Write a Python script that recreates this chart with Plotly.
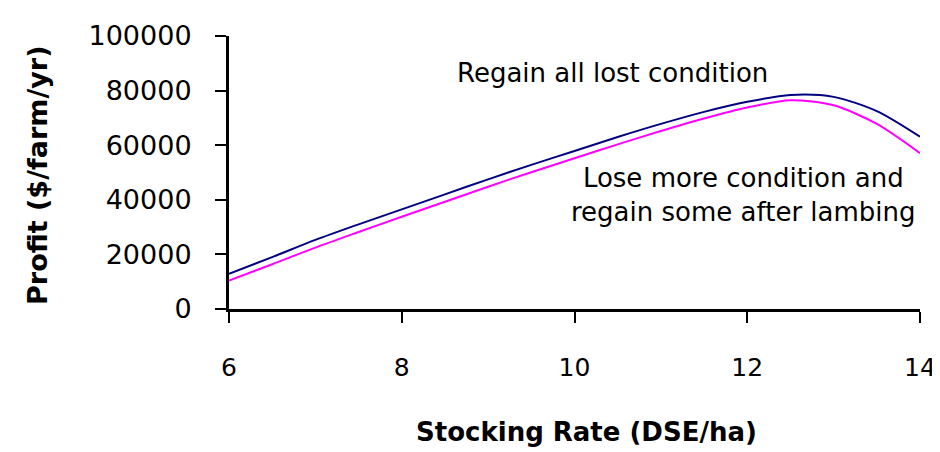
import plotly.graph_objects as go

stocking_rate = [6, 6.5, 7, 7.5, 8, 8.5, 9, 9.5, 10, 10.5, 11, 11.5, 12, 12.5, 13, 13.5, 14]
regain_all = [12900, 19000, 25300, 31000, 36500, 42000, 47500, 52800, 57900, 63000, 67800,
              72200, 75900, 78400, 77700, 72500, 63100]
lose_more = [10400, 16400, 22500, 28200, 33800, 39300, 44800, 50100, 55200, 60300, 65200,
             69800, 73800, 76500, 74600, 67800, 57100]

x_ticks = [6, 8, 10, 12, 14]
y_ticks = [0, 20000, 40000, 60000, 80000, 100000]

FONT = "DejaVu Sans"

fig = go.Figure()
fig.add_trace(go.Scatter(x=stocking_rate, y=regain_all, mode="lines",
                         line=dict(color="#000080", width=2, shape="spline", smoothing=0.8),
                         name="Regain all lost condition", showlegend=False))
fig.add_trace(go.Scatter(x=stocking_rate, y=lose_more, mode="lines",
                         line=dict(color="#FF00FF", width=2, shape="spline", smoothing=0.8),
                         name="Lose more condition and regain some after lambing", showlegend=False))

fig.update_layout(
    width=940, height=452,
    margin=dict(l=221, r=22, t=22, b=151),
    paper_bgcolor="white", plot_bgcolor="white",
    font=dict(family=FONT, color="black"),
    xaxis=dict(range=[6, 14], tickvals=x_ticks, ticktext=[str(v) for v in x_ticks],
               showgrid=False, zeroline=False, showline=True, linecolor="black", linewidth=3,
               ticks="outside", ticklen=11, tickwidth=2, tickcolor="black",
               tickfont=dict(size=25, family=FONT), ticklabelstandoff=23),
    yaxis=dict(range=[0, 100000], tickvals=y_ticks, ticktext=[str(v) for v in y_ticks],
               showgrid=False, zeroline=False, showline=True, linecolor="black", linewidth=3,
               ticks="outside", ticklen=11, tickwidth=2, tickcolor="black",
               tickfont=dict(size=27, family=FONT), ticklabelstandoff=18),
    annotations=[
        dict(text="<b>Stocking Rate (DSE/ha)</b>", xref="paper", yref="paper",
             x=0.518, y=-0.452, showarrow=False, font=dict(size=26, family=FONT),
             xanchor="center", yanchor="middle"),
        dict(text="<b>Profit ($/farm/yr)</b>", xref="paper", yref="paper",
             x=-0.2764, y=0.491, showarrow=False, textangle=-90,
             font=dict(size=27, family=FONT), xanchor="center", yanchor="middle"),
        dict(text="Regain all lost condition", xref="x", yref="y",
             x=10.44, y=86380, showarrow=False, font=dict(size=26, family=FONT),
             xanchor="center", yanchor="middle"),
        dict(text="Lose more condition and<br>regain some after lambing", xref="x", yref="y",
             x=11.96, y=41580, showarrow=False, font=dict(size=26, family=FONT),
             xanchor="center", yanchor="middle", align="center"),
    ],
)

fig.write_html("out.html")
